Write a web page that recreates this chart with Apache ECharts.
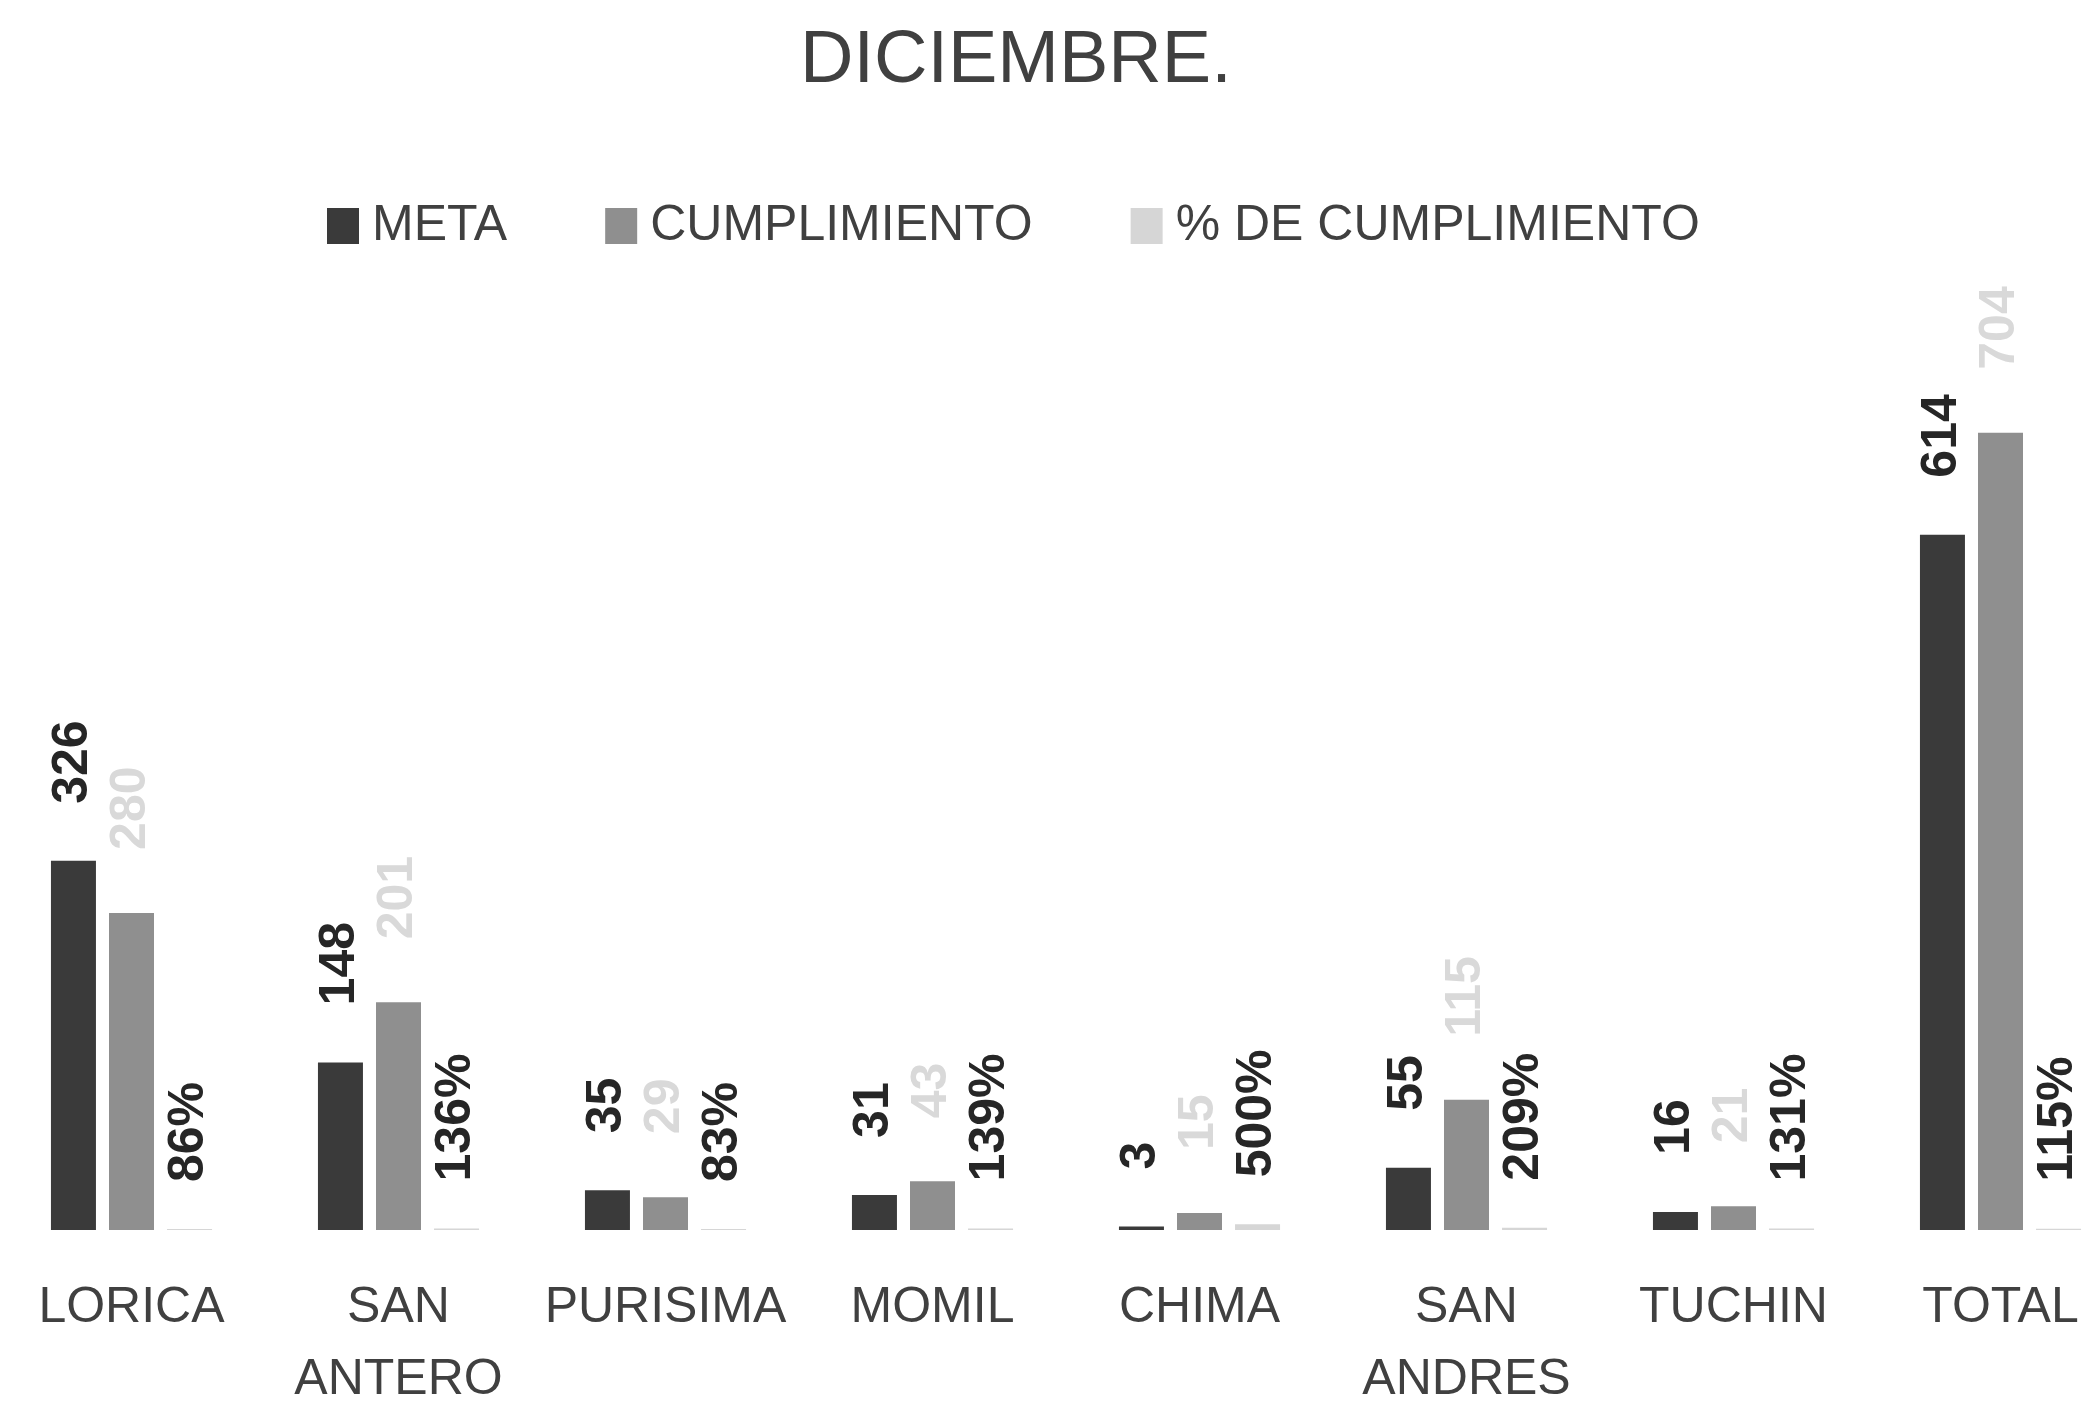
<!DOCTYPE html>
<html>
<head>
<meta charset="utf-8">
<script src="https://cdn.jsdelivr.net/npm/echarts@6/dist/echarts.min.js"></script>
<style>
  html, body { margin: 0; padding: 0; background: #fff; }
  #main { width: 2088px; height: 1413px; }
</style>
</head>
<body>
<div id="main"></div>
<script>
var categories = ['LORICA', 'SAN ANTERO', 'PURISIMA', 'MOMIL', 'CHIMA', 'SAN ANDRES', 'TUCHIN', 'TOTAL'];
var meta = [326, 148, 35, 31, 3, 55, 16, 614];
var cumplimiento = [280, 201, 29, 43, 15, 115, 21, 704];
var porcentaje = [0.86, 1.36, 0.83, 1.39, 5.00, 2.09, 1.31, 1.15];

var font = "'Liberation Sans', Arial, sans-serif";

var myChart = echarts.init(document.getElementById('main'));

var option = {
    animation: false,
    backgroundColor: '#fff',
    title: {
        text: 'DICIEMBRE.',
        left: 795,
        top: 20,
        textStyle: { fontFamily: font, fontSize: 74, fontWeight: 'normal', color: '#404040' }
    },
    legend: {
        data: ['META', 'CUMPLIMIENTO', '% DE CUMPLIMIENTO'],
        top: 196,
        left: 322,
        icon: 'rect',
        itemWidth: 32,
        itemHeight: 36,
        itemGap: 98,
        textStyle: { fontFamily: font, fontSize: 50, color: '#404040', padding: [0, 0, 0, 8] }
    },
    grid: {
        left: -2,
        right: -46,
        top: 324,
        bottom: 183,
        containLabel: false,
        outerBoundsMode: 'none'
    },
    xAxis: {
        type: 'category',
        data: categories,
        axisLine: { show: false },
        axisTick: { show: false },
        axisLabel: {
            interval: 0,
            margin: 42,
            fontFamily: font,
            fontSize: 50,
            lineHeight: 72,
            color: '#404040',
            formatter: function (v) { return v.replace(' ', '\n'); }
        }
    },
    yAxis: {
        type: 'value',
        min: 0,
        max: 800,
        show: false,
        splitLine: { show: false }
    },
    series: [
        {
            name: 'META',
            type: 'bar',
            data: meta,
            barWidth: 45,
            barGap: '29%',
            itemStyle: { color: '#3a3a3a' },
            label: {
                show: true, position: 'top', distance: 57, rotate: 90,
                align: 'left', verticalAlign: 'middle',
                fontFamily: font, fontSize: 50, fontWeight: 'bold', color: '#262626'
            }
        },
        {
            name: 'CUMPLIMIENTO',
            type: 'bar',
            data: cumplimiento,
            barWidth: 45,
            itemStyle: { color: '#8f8f8f' },
            label: {
                show: true, position: 'top', distance: 63, rotate: 90,
                align: 'left', verticalAlign: 'middle',
                fontFamily: font, fontSize: 50, fontWeight: 'bold', color: '#d9d9d9'
            }
        },
        {
            name: '% DE CUMPLIMIENTO',
            type: 'bar',
            data: porcentaje,
            barWidth: 45,
            itemStyle: { color: '#d6d6d6' },
            label: {
                show: true, position: 'top', distance: 47, rotate: 90,
                align: 'left', verticalAlign: 'middle',
                fontFamily: font, fontSize: 50, fontWeight: 'bold', color: '#262626',
                formatter: function (p) { return Math.round(p.value * 100) + '%'; }
            }
        }
    ]
};

myChart.setOption(option);
</script>
</body>
</html>
